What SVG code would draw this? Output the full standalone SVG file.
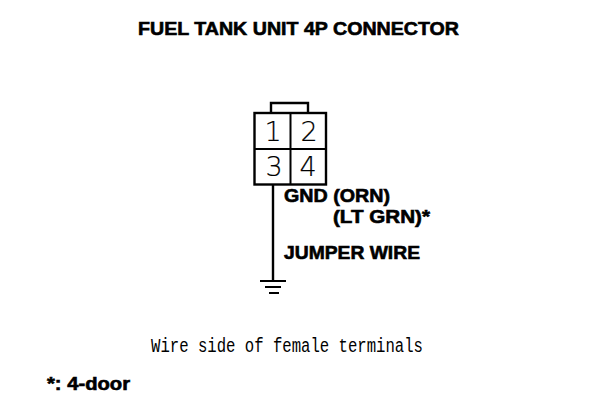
<svg xmlns="http://www.w3.org/2000/svg" width="608" height="414" viewBox="0 0 608 414">
<style>
.b{font-family:"Liberation Sans",Arial,sans-serif;font-weight:bold;font-size:18px;fill:#000;stroke:#000;stroke-width:.6px}
.n{font-family:"DejaVu Sans",sans-serif;font-weight:200;font-size:27px;fill:#000;stroke:#000;stroke-width:.2px;text-anchor:middle}
.m{font-family:"Liberation Mono","Courier New",monospace;font-size:20px;fill:#000}
.l{fill:none;stroke:#000;stroke-width:2.4}
.t{fill:none;stroke:#000;stroke-width:2}
</style>
<rect width="608" height="414" fill="#fff"/>
<text class="b" x="138" y="35" textLength="321" lengthAdjust="spacingAndGlyphs">FUEL TANK UNIT 4P CONNECTOR</text>
<g id="connector">
<rect class="l" x="254.500" y="113" width="71.500" height="71.500"/>
<path class="t" d="M255 149H326M290.500 113V184"/>
<path class="l" d="M271 113V103H308V113"/>
<text class="n" x="273" y="141">1</text>
<text class="n" x="309" y="141">2</text>
<text class="n" x="274" y="176">3</text>
<text class="n" x="308" y="176">4</text>
</g>
<g id="wires">
<path class="l" d="M273 184V281"/>
<path class="t" d="M260 281H286M265 287H281M269 293H279"/>
</g>
<g id="labels">
<text class="b" x="284" y="202" textLength="106" lengthAdjust="spacingAndGlyphs">GND (ORN)</text>
<text class="b" x="333" y="223" textLength="97" lengthAdjust="spacingAndGlyphs">(LT GRN)*</text>
<text class="b" x="284" y="259" textLength="136" lengthAdjust="spacingAndGlyphs">JUMPER WIRE</text>
<text class="m" x="151" y="352" textLength="272" lengthAdjust="spacingAndGlyphs">Wire side of female terminals</text>
<text class="b" x="47" y="390" textLength="83" lengthAdjust="spacingAndGlyphs">*: 4-door</text>
</g>
</svg>
